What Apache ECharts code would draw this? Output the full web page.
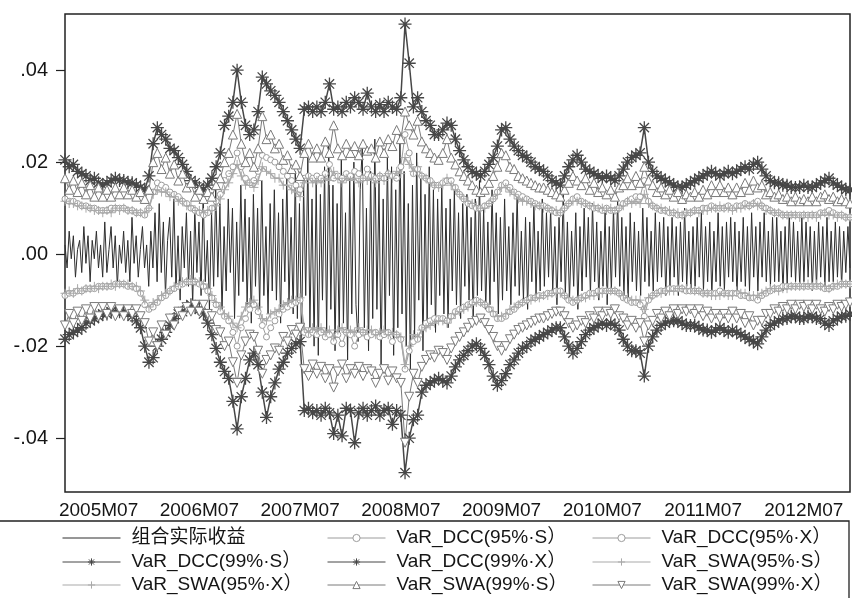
<!DOCTYPE html>
<html>
<head>
    <meta charset="utf-8">
    <script src="https://cdn.jsdelivr.net/npm/echarts@6/dist/echarts.min.js"></script>
    <style>
        html, body { margin: 0; padding: 0; background: #fff; }
        #main { width: 852px; height: 598px; }
    </style>
</head>
<body>
<div id="main"></div>
<script>
    // half-month periods for the VaR series, 2005M03 .. 2012M12 (188 points)
    // quarter-month periods for the return series (376 points)
    var periods = [];
    var subPeriods = [];
    for (var y = 2005; y <= 2012; y++) {
        for (var m = (y === 2005 ? 3 : 1); m <= 12; m++) {
            var mm = (m < 10 ? '0' : '') + m;
            periods.push(y + 'M' + mm + 'a', y + 'M' + mm + 'b');
            subPeriods.push(y + 'M' + mm + '1', y + 'M' + mm + '2', y + 'M' + mm + '3', y + 'M' + mm + '4');
        }
    }

    var tickLabels = ['2005M07', '2006M07', '2007M07', '2008M07', '2009M07', '2010M07', '2011M07', '2012M07'];

    // all values below are in per-mille (x 0.001)
    var actualReturn = [
        2, -3, 5, -1, 4, -5, 1, 3, -4, 6,
        -2, 4, -6, 3, -1, 5, -3, 2, -5, 7,
        -4, 1, 6, -3, 4, -7, 2, -2, 5, -4,
        3, -6, 8, -2, 4, -5, 1, 6, -3, 2,
        -7, 5, -3, 9, -6, 11, -4, 7, -9, 3,
        8, -5, 12, -8, 4, -10, 6, -3, 9, -7,
        5, -11, 10, -4, 7, -9, 13, -6, 3, -12,
        9, -7, 14, -5, 11, -13, 6, -8, 12, -4,
        10, -14, 7, -9, 15, -6, 12, -11, 8, -15,
        13, -7, 10, -12, 16, -9, 6, -13, 11, -8,
        14, -10, 9, -15, 12, -6, 17, -11, 8, -13,
        18, -14, 11, -19, 15, -9, 21, -16, 12, -20,
        16, -22, 13, -10, 19, -17, 24, -12, 15, -21,
        11, -18, 22, -15, 9, -23, 17, -13, 20, -11,
        -19, 14, 23, -16, 10, -21, 18, -14, 25, -12,
        16, -24, 12, -17, 21, -9, 19, -22, 14, -16,
        26, -13, 18, -20, 11, -25, 15, -18, 22, -10,
        17, -21, 13, -15, 19, -11, 14, -17, 12, -9,
        15, -13, 10, -16, 12, -8, 14, -11, 9, -14,
        11, -7, 13, -10, 8, -15, 12, -9, 16, -8,
        10, -12, 7, -11, 14, -6, 9, -13, 8, -10,
        12, -8, 6, -11, 9, -7, 13, -9, 5, -10,
        8, -12, 7, -6, 11, -9, 5, -8, 12, -7,
        9, -5, 10, -8, 6, -11, 8, -6, 13, -9,
        7, -10, 5, -7, 9, -12, 6, -8, 10, -5,
        8, -9, 11, -6, 7, -10, 5, -7, 9, -11,
        6, -8, 10, -5, 12, -7, 8, -9, 6, -10,
        9, -6, 7, -8, 5, -9, 10, -6, 8, -7,
        5, -8, 9, -6, 7, -5, 8, -9, 6, -7,
        8, -5, 6, -9, 7, -6, 10, -7, 5, -8,
        6, -7, 8, -5, 9, -8, 6, -6, 7, -9,
        5, -6, 9, -7, 6, -8, 7, -5, 8, -6,
        7, -9, 5, -6, 8, -7, 6, -8, 9, -5,
        6, -8, 7, -5, 9, -6, 5, -7, 8, -6,
        8, -6, 5, -8, 6, -7, 9, -5, 7, -6,
        5, -7, 8, -6, 7, -5, 6, -8, 5, -7,
        7, -5, 6, -7, 8, -6, 5, -6, 7, -5,
        6, -7, 5, -4, 6, -3
    ];

    var dcc95S = [
        12, 11.5, 11.5, 11, 10.5, 10.5, 10, 10, 9.5, 9.5,
        9.5, 10, 10, 10, 10, 9.5, 9.5, 9, 9, 8.5,
        10, 13.5, 15.5, 15, 14.5, 13.5, 13, 12.5, 11.5, 11,
        10, 9.5, 9, 8.5, 9, 10, 11.5, 13, 16, 17.5,
        19, 22, 19, 16.5, 15.5, 16, 18, 21.5, 21, 20.5,
        20, 19, 18, 17, 16, 15, 14, 16.5, 17, 16.5,
        17, 16.5, 17.5, 19.5, 16.5, 17, 16.5, 17.5, 17, 18,
        17.5, 16.5, 18.5, 17, 16.5, 17, 16.5, 17.5, 17, 16.5,
        19, 26, 22, 17.5, 18.5, 17, 16.5, 16, 15, 15,
        15.5, 16, 16, 14.5, 13, 12, 11, 10.5, 10, 10,
        10.5, 11, 12, 13.5, 15, 15.5, 14.5, 13.5, 13, 12.5,
        12, 11.5, 11, 10.5, 10.5, 10, 9.5, 9, 9, 10,
        11, 12, 12.5, 11.5, 11, 10.5, 10, 10, 9.5, 10,
        9.5, 9.5, 10, 11, 11.5, 12, 12.5, 12.5, 16, 11.5,
        10.5, 10, 9.5, 9.5, 9, 9, 8.5, 8.5, 9, 9,
        9.5, 9.5, 10, 10, 10.5, 10, 10, 10, 10.5, 10,
        10.5, 10.5, 11, 10.5, 11, 11.5, 10.5, 10, 9.5, 9,
        9, 8.5, 8.5, 8.5, 8.5, 8.5, 8.5, 8.5, 8.5, 8.5,
        9, 9, 9.5, 9, 8.5, 8.5, 8, 8
    ];

    var dcc95X = [
        -9, -8.5, -8.5, -8, -8, -7.5, -7.5, -7.5, -7, -7,
        -7, -7, -6.5, -6.5, -6.5, -7, -7, -7.5, -8.5, -11,
        -12, -11.5, -10.5, -9.5, -9, -8, -7.5, -7, -6.5, -6,
        -6, -6, -6.5, -7, -8, -9.5, -11, -12.5, -13.5, -14.5,
        -17, -20, -16, -14, -12, -11, -12.5, -15.5, -18, -16,
        -14.5, -13, -12, -11.5, -11, -10.5, -10, -17, -17.5, -17,
        -17.5, -17, -18, -17.5, -19, -17.5, -19.5, -17, -17.5, -20,
        -17.5, -17, -18, -17.5, -17, -18, -17.5, -17, -19, -17.5,
        -18.5, -25, -21, -19, -18.5, -16, -15, -14.5, -14, -14,
        -14, -14.5, -13.5, -12.5, -12, -11.5, -11, -10.5, -10, -10.5,
        -11, -12, -13, -14, -14, -13.5, -12.5, -12, -11, -10.5,
        -10, -9.5, -9.5, -9, -9, -8.5, -8.5, -8, -8, -9,
        -10, -10.5, -10, -9.5, -9, -8.5, -8.5, -8, -8, -8,
        -8, -8, -8.5, -9.5, -10, -10.5, -10.5, -11, -13.5, -10,
        -9, -8.5, -8, -8, -7.5, -7.5, -7.5, -7.5, -8, -8,
        -8, -8, -8.5, -8.5, -8.5, -8.5, -8, -8.5, -8.5, -8.5,
        -8.5, -9, -9, -9.5, -9.5, -10, -9, -8.5, -8, -7.5,
        -7.5, -7, -7, -7, -7, -7, -7, -7, -7, -7,
        -7, -7.5, -7.5, -7, -7, -6.5, -6.5, -6.5
    ];

    var dcc99S = [
        20.5, 19, 19.5, 18, 17.5, 17, 16, 16.5, 15.5, 15,
        15.5, 16, 16.5, 16, 16, 15.5, 15.5, 15, 14.5, 14,
        17, 24, 27.5, 26, 25, 23, 22.5, 21, 19.5, 18,
        16, 15.5, 14.5, 14, 15, 16.5, 19, 22, 28, 30,
        33, 40, 33, 28, 26, 27, 31, 38.5, 37, 35.5,
        34.5, 33, 31, 29, 27, 25, 23, 31.5, 32, 31,
        32, 31, 33, 37, 31.5, 32, 31, 33, 32, 34,
        33, 31.5, 35, 32, 31, 32.5, 31, 33, 32, 31.5,
        34, 50, 41.5, 32, 34, 31, 29, 28, 26, 26,
        27, 28.5, 28, 25, 22.5, 20.5, 19, 18, 17.5, 17,
        18, 19.5, 21, 23.5, 27, 27.5, 25, 23.5, 22.5, 21.5,
        21, 20, 19, 18.5, 18, 17, 16, 15.5, 15, 17,
        19, 20.5, 21.5, 20, 18.5, 18, 17.5, 17, 16.5, 17,
        16.5, 16, 17, 18.5, 20, 21, 21.5, 22, 27.5, 20,
        18, 17, 16.5, 16, 15.5, 15, 14.5, 14.5, 15, 15.5,
        16, 16.5, 17, 17.5, 18, 17.5, 17, 17.5, 18, 17.5,
        18, 18.5, 19, 18.5, 19.5, 20, 18.5, 17, 16, 15.5,
        15.5, 15, 15, 14.5, 14.5, 14.5, 15, 14.5, 14.5, 15,
        15.5, 16, 16.5, 15.5, 15, 14.5, 14, 14
    ];

    var dcc99X = [
        -18.5, -17.5, -17, -16.5, -16, -15, -14.5, -14, -13.5, -13,
        -13, -12.5, -12.5, -12.5, -12.5, -13, -13.5, -14.5, -16, -20,
        -23.5, -22.5, -20, -18.5, -17, -15.5, -14, -13, -12.5, -11.5,
        -11, -11.5, -12, -13, -15, -17.5, -20.5, -23.5, -25.5, -27,
        -32, -38, -31, -27, -23, -21.5, -24, -30, -35.5, -31,
        -28, -25, -23.5, -21.5, -20.5, -19.5, -19, -34, -33.5, -34.5,
        -34, -35, -33.5, -34.5, -39, -35, -39.5, -33.5, -34, -41,
        -34.5, -33.5, -35, -34, -33, -35, -34, -33.5, -37, -34,
        -35, -47.5, -40, -36, -35, -30, -28.5, -28, -27.5, -27,
        -27.5, -28, -26.5, -24.5, -23, -22, -21, -20, -19.5, -20.5,
        -22, -24, -26.5, -28.5, -27.5, -26, -24, -23, -21.5, -20.5,
        -20, -19, -18.5, -18, -17.5, -17, -16.5, -16, -16, -18,
        -20, -21.5, -20.5, -19, -17.5, -16.5, -16, -15.5, -15, -15.5,
        -15, -15.5, -16.5, -18.5, -20, -21, -21, -21.5, -26.5, -20,
        -18, -16.5, -15.5, -15, -14.5, -14.5, -14.5, -15, -15.5, -15.5,
        -15.5, -16, -16.5, -16.5, -17, -16.5, -16, -16.5, -17, -16.5,
        -17, -17.5, -18, -18.5, -19, -19.5, -18, -16.5, -15.5, -15,
        -14.5, -14, -14, -13.5, -13.5, -14, -14, -13.5, -13.5, -14,
        -14, -15, -15.5, -14.5, -14, -13.5, -13.5, -13
    ];

    var swa95S = [
        11.5, 11, 11, 10.5, 10.5, 10, 10, 9.5, 9.5, 9,
        9.5, 9, 10, 9.5, 10, 9.5, 9.5, 9, 9, 9,
        10, 13, 14, 13.5, 13.5, 12.5, 12.5, 11.5, 11.5, 10.5,
        10.5, 9.5, 9.5, 9, 9.5, 9.5, 10.5, 12, 14, 15.5,
        17.5, 19.5, 17, 15, 15.5, 14.5, 16, 19, 18, 17.5,
        16.5, 16.5, 15, 15, 14, 13.5, 12.5, 15.5, 16.5, 15.5,
        16, 15.5, 16.5, 16, 18, 16.5, 15.5, 16.5, 16, 16.5,
        15.5, 16.5, 16, 16.5, 15.5, 17, 16, 17.5, 16.5, 18,
        17.5, 21, 19.5, 18, 19, 17, 16.5, 15.5, 15, 14.5,
        15, 16.5, 15, 14, 13, 12, 11.5, 11, 10.5, 10,
        10, 11, 12, 13, 14.5, 14.5, 13.5, 13, 12, 11.5,
        11.5, 11, 10.5, 10.5, 10, 10, 9.5, 9.5, 9, 10,
        11, 11.5, 11.5, 11, 11, 10.5, 10.5, 10, 10, 9.5,
        10, 9.5, 10, 10.5, 11.5, 11, 11.5, 11, 13, 11,
        10.5, 10, 10, 9.5, 9.5, 9, 9, 8.5, 9, 9,
        9.5, 9, 9.5, 9.5, 10, 10, 10.5, 10, 10, 9.5,
        10, 10, 10.5, 10.5, 11, 10.5, 10.5, 9.5, 9.5, 9,
        9, 8.5, 8.5, 8.5, 8.5, 8, 8.5, 8, 8.5, 8,
        8.5, 9, 8.5, 8.5, 8, 8.5, 8, 8
    ];

    var swa95X = [
        -8.5, -8, -8.5, -7.5, -8, -7.5, -7.5, -7, -7.5, -7,
        -7, -6.5, -7, -6.5, -6.5, -6.5, -7, -7, -8, -10,
        -11.5, -10.5, -10, -9, -8.5, -8, -7, -6.5, -6, -6,
        -5.5, -6, -6, -6.5, -7.5, -9, -10.5, -11.5, -13, -13.5,
        -15, -16, -13.5, -11.5, -10.5, -10, -11.5, -14, -14.5, -13,
        -12.5, -12, -11, -10.5, -10, -10, -9.5, -16, -17, -16,
        -16.5, -16, -17, -16.5, -18, -16.5, -16, -17, -16.5, -17,
        -16, -17, -16.5, -16.5, -17.5, -17, -16.5, -17.5, -17, -17.5,
        -18, -24, -20, -17.5, -18, -16.5, -16, -15.5, -15, -14.5,
        -14.5, -15, -14, -13, -12.5, -12, -11.5, -11, -10.5, -10.5,
        -11, -11.5, -12.5, -13.5, -13.5, -13, -12, -11.5, -11, -10.5,
        -10, -10, -9.5, -9.5, -9, -9, -8.5, -8.5, -8.5, -9,
        -9.5, -10, -10, -9.5, -9.5, -9, -9, -8.5, -8.5, -8,
        -8, -8, -8.5, -9, -9.5, -10, -10, -10, -12, -9.5,
        -9, -8.5, -8.5, -8, -8, -8, -7.5, -7.5, -7.5, -7.5,
        -8, -8, -8.5, -8.5, -9, -9, -9, -8.5, -9, -9,
        -8, -8.5, -8.5, -9, -9, -9, -8.5, -8, -7.5, -7.5,
        -8, -7.5, -7.5, -7, -7, -7, -7, -6.5, -7, -6.5,
        -7, -7, -7.5, -7, -6.5, -6.5, -6.5, -6.5
    ];

    var swa99S = [
        16.5, 14, 16, 13.5, 15.5, 13, 15, 12.5, 14.5, 12.5,
        14, 12.5, 14.5, 13, 14.5, 13, 14, 12.5, 13.5, 12,
        14, 20, 22, 18.5, 21, 17.5, 19.5, 16, 17.5, 14.5,
        15.5, 12.5, 14, 12, 13.5, 12.5, 15, 16.5, 20, 22,
        26, 30.5, 24, 20, 22, 19, 23, 30, 25, 26,
        23, 24, 20.5, 21.5, 18.5, 19.5, 17, 22, 24, 21,
        23, 21, 24.5, 22, 28, 23, 21.5, 24, 22, 23.5,
        21.5, 24, 22.5, 23, 21, 24.5, 22, 25, 23.5, 27,
        25, 31, 28, 26, 29, 24.5, 23, 22, 21, 20.5,
        22, 25, 21, 19.5, 18, 17, 16, 15, 14, 13.5,
        14, 15.5, 17, 19, 22, 21.5, 19, 18.5, 17, 16.5,
        16, 15.5, 15, 14.5, 14.5, 14, 13.5, 13, 12.5, 14,
        15.5, 17, 16, 15, 16.5, 14, 15.5, 13.5, 14.5, 13,
        14, 12.5, 14.5, 15, 16.5, 15, 17, 15.5, 19, 16,
        15, 13.5, 14.5, 13, 14, 12.5, 13.5, 12, 13, 12.5,
        13.5, 12.5, 14, 13, 15, 13.5, 15, 13.5, 14.5, 13,
        14.5, 13.5, 15.5, 14, 16, 14.5, 15, 13, 13.5, 12.5,
        13, 12, 12.5, 11.5, 12.5, 11.5, 12, 11.5, 12.5, 11.5,
        12.5, 13, 12, 12.5, 11.5, 12, 11.5, 11
    ];

    var swa99X = [
        -15.5, -13, -15, -12.5, -14.5, -12, -14, -11.5, -13.5, -11.5,
        -13, -11.5, -13.5, -12, -13.5, -12, -13, -12, -13.5, -15,
        -19, -17, -20, -15.5, -17.5, -14, -15.5, -12.5, -13.5, -11.5,
        -12.5, -11, -12.5, -11, -13, -13.5, -16.5, -17, -20, -19,
        -23.5, -28, -22, -19, -17.5, -18, -21, -26, -23, -22,
        -20.5, -21, -18, -19, -16.5, -17.5, -16, -25, -26.5, -24,
        -26, -24.5, -27, -25, -29, -25.5, -24, -27, -25, -26,
        -24.5, -26.5, -25, -25.5, -28, -26, -25, -27.5, -25.5, -27,
        -28, -41, -31, -26, -28, -24.5, -23, -22, -22.5, -21,
        -21.5, -23, -20.5, -19, -18, -17, -16, -15, -14.5, -14,
        -15, -16.5, -18, -20, -21, -20, -18.5, -17.5, -16.5, -16,
        -15.5, -15, -14.5, -14, -14, -13.5, -13, -12.5, -12.5, -13.5,
        -15, -16, -15.5, -14.5, -15, -13.5, -14, -12.5, -13.5, -12.5,
        -13, -12, -13.5, -14, -15.5, -14.5, -16, -15, -19, -15.5,
        -14.5, -13, -14, -12.5, -13.5, -12, -13, -12, -12.5, -12,
        -13, -12, -13.5, -12.5, -14, -13, -14, -13, -14, -12.5,
        -14, -13, -15, -13.5, -15.5, -14.5, -14.5, -13, -13, -12,
        -12.5, -11.5, -12, -11, -12, -11, -11.5, -11, -12, -11,
        -12, -12.5, -11.5, -12, -11, -11.5, -11, -10.5
    ];

    var seriesNames = [
        '组合实际收益',
        'VaR_DCC(95%·S）', 'VaR_DCC(95%·X）',
        'VaR_DCC(99%·S）', 'VaR_DCC(99%·X）',
        'VaR_SWA(95%·S）', 'VaR_SWA(95%·X）',
        'VaR_SWA(99%·S）', 'VaR_SWA(99%·X）'
    ];

    var font = '"Liberation Sans", Arial, "Noto Sans CJK SC", sans-serif';
    var starPath = 'path://M0,-5L0,5M-5,0L5,0M-3.6,-3.6L3.6,3.6M-3.6,3.6L3.6,-3.6';
    var plusPath = 'path://M0,-5L0,5M-5,0L5,0';
    var downTriPath = 'path://M-5,-4.3L5,-4.3L0,4.3Z';

    function varLine(name, data, color, symbol, size, fill, bw, lw) {
        return {
            name: name,
            type: 'line',
            data: data,
            symbol: symbol,
            symbolSize: size,
            showSymbol: true,
            showAllSymbol: true,
            lineStyle: {color: color, width: lw || 1},
            itemStyle: {color: fill, borderColor: color, borderWidth: bw || 1},
            emphasis: {disabled: true}
        };
    }

    var series = [
        {
            name: seriesNames[0],
            type: 'line',
            xAxisIndex: 1,
            data: actualReturn,
            symbol: 'none',
            lineStyle: {color: '#2e2e2e', width: 1},
            itemStyle: {color: '#2e2e2e'},
            emphasis: {disabled: true}
        },
        varLine(seriesNames[1], dcc95S, '#9c9c9c', 'circle', 6, '#fff'),
        varLine(seriesNames[2], dcc95X, '#9c9c9c', 'circle', 6, '#fff'),
        varLine(seriesNames[3], dcc99S, '#474747', starPath, 13, '#474747', 1.3, 1.5),
        varLine(seriesNames[4], dcc99X, '#474747', starPath, 13, '#474747', 1.3, 1.5),
        varLine(seriesNames[5], swa95S, '#a9a9a9', plusPath, 9, '#a9a9a9', 1, 1.5),
        varLine(seriesNames[6], swa95X, '#a9a9a9', plusPath, 9, '#a9a9a9', 1, 1.5),
        varLine(seriesNames[7], swa99S, '#7a7a7a', 'triangle', 9, '#fff'),
        varLine(seriesNames[8], swa99X, '#7a7a7a', downTriPath, 9, '#fff')
    ];

    // legend: 3 columns x 3 rows
    var colLeft = [62, 327, 592];
    var rowTop = [528, 552, 575];
    var legends = [];
    for (var k = 0; k < seriesNames.length; k++) {
        var lg = {
            data: [seriesNames[k]],
            left: colLeft[k % 3],
            top: rowTop[Math.floor(k / 3)],
            padding: 0,
            itemWidth: 58,
            itemHeight: 9,
            selectedMode: false,
            lineStyle: {width: 1},
            itemStyle: {borderWidth: 1},
            textStyle: {
                fontFamily: font,
                fontSize: 19,
                color: '#151515',
                lineHeight: 20,
                padding: [0, 0, 0, 6]
            }
        };
        if (k === 0) {
            // plain line, no marker
            lg.itemStyle = {color: 'rgba(0,0,0,0)', borderWidth: 0};
        }
        legends.push(lg);
    }

    var option = {
        animation: false,
        backgroundColor: '#fff',
        grid: {
            left: 65,
            right: 2,
            top: 14,
            bottom: 106,
            show: true,
            borderColor: '#222',
            borderWidth: 1.5
        },
        legend: legends,
        graphic: [{
            type: 'rect',
            shape: {x: -2, y: 521, width: 851, height: 100},
            style: {fill: 'none', stroke: '#222', lineWidth: 1.3},
            silent: true
        }],
        xAxis: [{
            type: 'category',
            data: periods,
            boundaryGap: false,
            axisLine: {show: false},
            axisTick: {show: false},
            splitLine: {show: false},
            axisLabel: {
                interval: function (idx, val) {
                    return val.charAt(7) === 'a' && tickLabels.indexOf(val.slice(0, 7)) >= 0;
                },
                formatter: function (val) {
                    return val.slice(0, 7);
                },
                margin: 9,
                fontFamily: font,
                fontSize: 19,
                color: '#151515'
            }
        }, {
            type: 'category',
            data: subPeriods,
            boundaryGap: false,
            show: false
        }],
        yAxis: {
            type: 'value',
            min: -51.7,
            max: 52.2,
            axisLine: {show: false},
            splitLine: {show: false},
            axisTick: {
                show: true,
                inside: false,
                length: 9,
                customValues: [-40, -20, 0, 20, 40],
                lineStyle: {color: '#222', width: 1.2}
            },
            axisLabel: {
                customValues: [-40, -20, 0, 20, 40],
                margin: 17,
                fontFamily: font,
                fontSize: 20,
                color: '#151515',
                formatter: function (v) {
                    if (v === 0) return '.00';
                    var s = (Math.abs(v) / 1000).toFixed(2).replace(/^0/, '');
                    return (v < 0 ? '-' : '') + s;
                }
            }
        },
        series: series
    };

    var chart = echarts.init(document.getElementById('main'));
    chart.setOption(option);
</script>
</body>
</html>
